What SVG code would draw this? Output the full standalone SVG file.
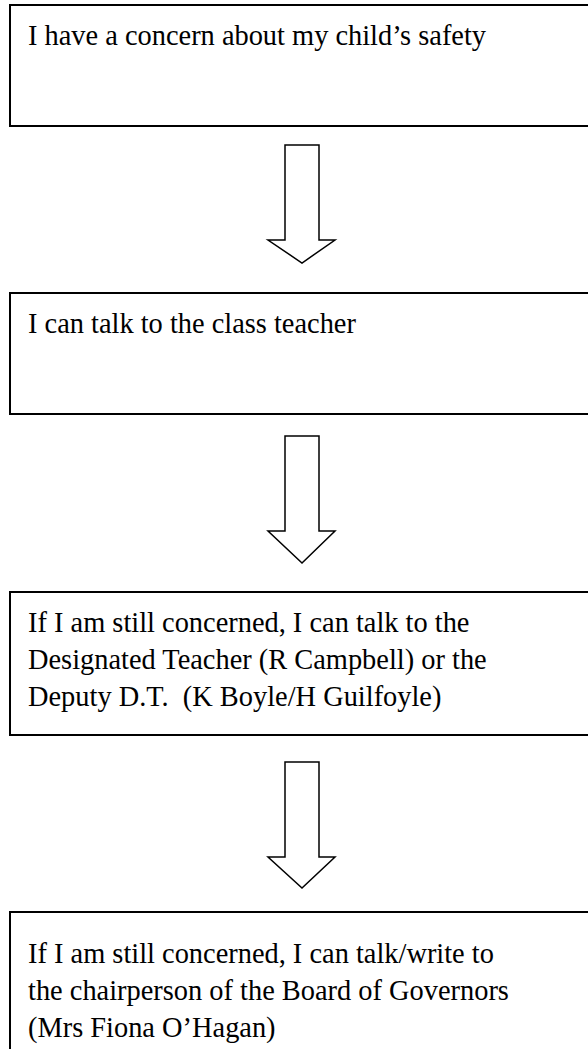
<svg xmlns="http://www.w3.org/2000/svg" width="588" height="1049" viewBox="0 0 588 1049">
<style>
.box{fill:#fff;stroke:#000;stroke-width:2}
.arr{fill:#fff;stroke:#000;stroke-width:1.5;stroke-linejoin:miter}
text{font-family:"Liberation Serif","Times New Roman",serif;font-size:28.4px;fill:#000;white-space:pre}
</style>
<rect width="588" height="1049" fill="#fff"/>
<g id="connectors">
<polygon class="arr" points="285,145 319,145 319,240 335,240 302,263 268,240 285,240"/>
<polygon class="arr" points="285,436 319,436 319,531 335,531 302,563 268,531 285,531"/>
<polygon class="arr" points="285,762 319,762 319,857 335,857 302,888 268,857 285,857"/>
</g>
<g id="node1">
<rect class="box" x="10" y="5" width="600" height="121"/>
<text x="28" y="45">I have a concern about my child’s safety</text>
</g>
<g id="node2">
<rect class="box" x="10" y="293" width="600" height="121"/>
<text x="28" y="333">I can talk to the class teacher</text>
</g>
<g id="node3">
<rect class="box" x="10" y="592" width="600" height="143"/>
<text x="28" y="632">If I am still concerned, I can talk to the</text>
<text x="28" y="669">Designated Teacher (R Campbell) or the</text>
<text x="28" y="706" xml:space="preserve">Deputy D.T.  (K Boyle/H Guilfoyle)</text>
</g>
<g id="node4">
<rect class="box" x="10" y="912" width="600" height="160"/>
<text x="28" y="963">If I am still concerned, I can talk/write to</text>
<text x="28" y="1000">the chairperson of the Board of Governors</text>
<text x="28" y="1037">(Mrs Fiona O’Hagan)</text>
</g>
</svg>
